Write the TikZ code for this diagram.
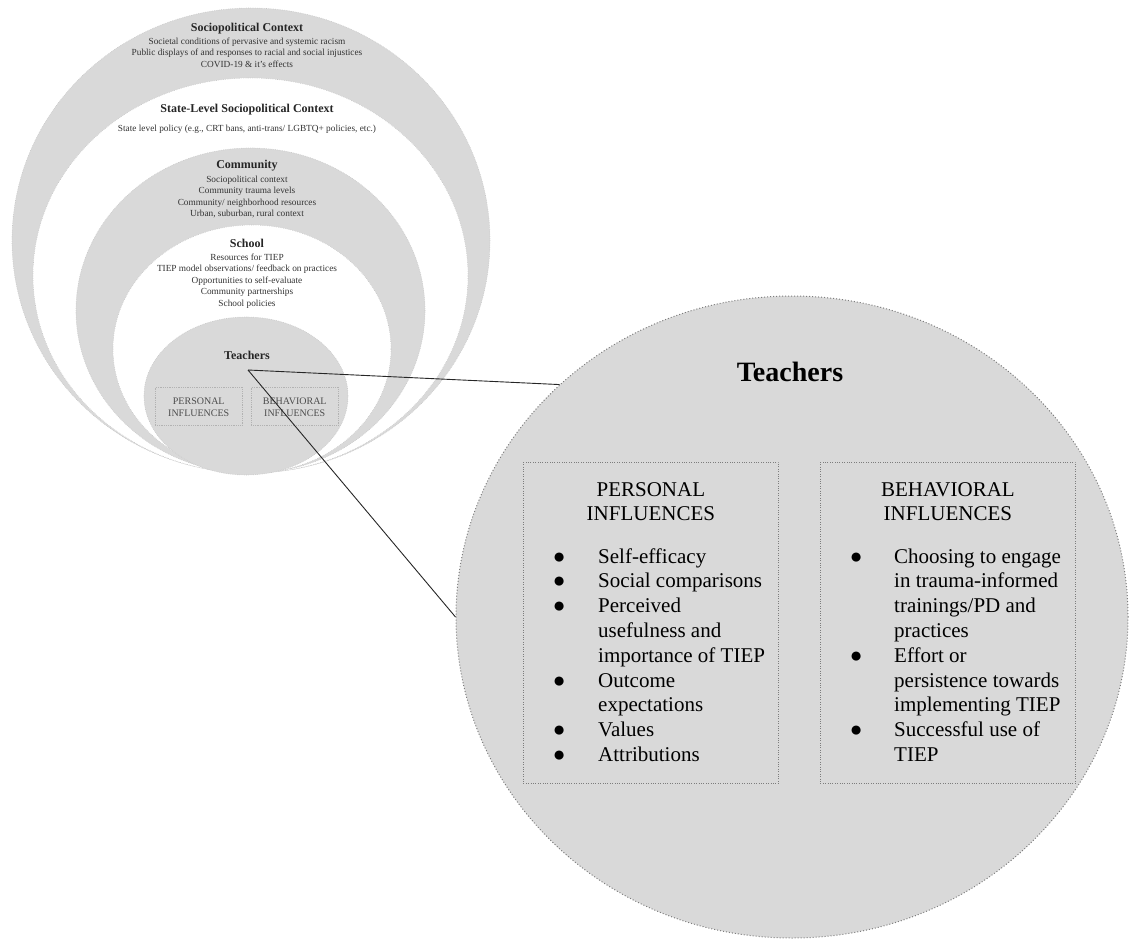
\documentclass[tikz,border=0pt]{standalone}
\usepackage{fontspec}
\setmainfont{Liberation Serif}
\usepackage{tikz}
\usetikzlibrary{shapes.geometric}
\definecolor{ringgray}{RGB}{217,217,217}
\definecolor{dotgray}{RGB}{125,125,125}
\newcommand{\stack}[1]{\begin{tabular}{@{}c@{}}#1\end{tabular}}
\newcommand{\bul}{\makebox[0pt]{●}}

\begin{document}
\begin{tikzpicture}[x=1pt, y=-1pt,
  ring/.style={ellipse, inner sep=0pt, draw=gray!45, dash pattern=on 0.6pt off 1.2pt, line width=0.6pt},
  ringtitle/.style={font=\fontsize{12}{14}\selectfont\bfseries, text=black!85, anchor=base, inner sep=0pt},
  ringtext/.style={font=\fontsize{9.3}{11.5}\selectfont, text=black!80, anchor=north, inner sep=0pt},
  smallbox/.style={draw=gray!60, dash pattern=on 0.6pt off 1.2pt, line width=0.5pt, inner sep=0pt, minimum width=87pt, minimum height=38pt, anchor=north west},
  smalltext/.style={font=\fontsize{10}{12}\selectfont, text=black!70, anchor=north, inner sep=0pt},
  bigbox/.style={draw=dotgray, dash pattern=on 0.8pt off 1.6pt, line width=0.8pt, inner sep=0pt, minimum width=255pt, minimum height=321pt, anchor=north west},
  boxhead/.style={font=\fontsize{21}{24}\selectfont, anchor=north, inner sep=0pt},
  boxlist/.style={font=\fontsize{21}{24.8}\selectfont, anchor=north west, inner sep=0pt},
  zoomline/.style={line width=0.9pt, black!85}]
\useasboundingbox (0,0) rectangle (1130,940);

% nested layers, outside in
\node[ring, fill=ringgray, minimum width=478pt, minimum height=465pt] (socio) at (251,240.5) {};
\node[ring, fill=white, minimum width=435pt, minimum height=395pt] (state) at (250.5,275.5) {};
\node[ring, fill=ringgray, minimum width=349pt, minimum height=325pt] (comm) at (250.5,310.5) {};
\node[ring, fill=white, minimum width=278pt, minimum height=248pt] (school) at (252,349) {};
\node[ring, fill=ringgray, minimum width=204pt, minimum height=158pt] (teach) at (246,396) {};

% layer labels
\node[ringtitle] (sociotitle) at (247,31) {Sociopolitical Context};
\node[ringtext] (sociotext) at (247,36) {\stack{Societal conditions of pervasive and systemic racism\\
  Public displays of and responses to racial and social injustices\\
  COVID-19 \& it’s effects}};
\node[ringtitle] (statetitle) at (247,112) {State-Level Sociopolitical Context};
\node[ringtext] (statetext) at (247,123) {\stack{State level policy (e.g., CRT bans, anti-trans/ LGBTQ+ policies, etc.)}};
\node[ringtitle] (commtitle) at (247,168) {Community};
\node[ringtext] (commtext) at (247,174) {\stack{Sociopolitical context\\
  Community trauma levels\\
  Community/ neighborhood resources\\
  Urban, suburban, rural context}};
\node[ringtitle] (schooltitle) at (247,247) {School};
\node[ringtext] (schooltext) at (247,252) {\stack{Resources for TIEP\\
  TIEP model observations/ feedback on practices\\
  Opportunities to self-evaluate\\
  Community partnerships\\
  School policies}};
\node[ringtitle] (teachtitle) at (247,359) {Teachers};

% small influence boxes
\node[smallbox] (perssmall) at (155,387) {};
\node[smallbox] (behavsmall) at (251,387) {};
\node[smalltext] at (perssmall.center |- 0,395.6) {\stack{PERSONAL\\INFLUENCES}};
\node[smalltext] at (behavsmall.center |- 0,395.6) {\stack{BEHAVIORAL\\INFLUENCES}};
\coordinate (apex) at (248,370);

% enlarged teachers circle
\node[ellipse, fill=ringgray, draw=dotgray, dash pattern=on 1pt off 2pt, line width=1pt,
  inner sep=0pt, minimum width=672pt, minimum height=642pt] (zoom) at (792,617) {};
\draw[zoomline] (apex) -- (zoom.135);
\draw[zoomline] (apex) -- (zoom.west);

\node[font=\fontsize{28}{32}\selectfont\bfseries, anchor=base, inner sep=0pt] (bigtitle) at (790,381) {Teachers};

\node[bigbox] (pers) at (523,462) {};
\node[bigbox] (behav) at (820,462) {};
\node[boxhead] (pershead) at (pers.center |- 0,479.2) {\stack{PERSONAL\\INFLUENCES}};
\node[boxhead] (behavhead) at (behav.center |- 0,479.2) {\stack{BEHAVIORAL\\INFLUENCES}};

\node[boxlist] (perslist) at (559,545.6) {\begin{tabular}{@{}l@{\hspace{39pt}}l@{}}
  \bul & Self-efficacy\\
  \bul & Social comparisons\\
  \bul & Perceived\\
       & usefulness and\\
       & importance of TIEP\\
  \bul & Outcome\\
       & expectations\\
  \bul & Values\\
  \bul & Attributions
\end{tabular}};
\node[boxlist] (behavlist) at (856,545.6) {\begin{tabular}{@{}l@{\hspace{38pt}}l@{}}
  \bul & Choosing to engage\\
       & in trauma-informed\\
       & trainings/PD and\\
       & practices\\
  \bul & Effort or\\
       & persistence towards\\
       & implementing TIEP\\
  \bul & Successful use of\\
       & TIEP
\end{tabular}};
\end{tikzpicture}
\end{document}
